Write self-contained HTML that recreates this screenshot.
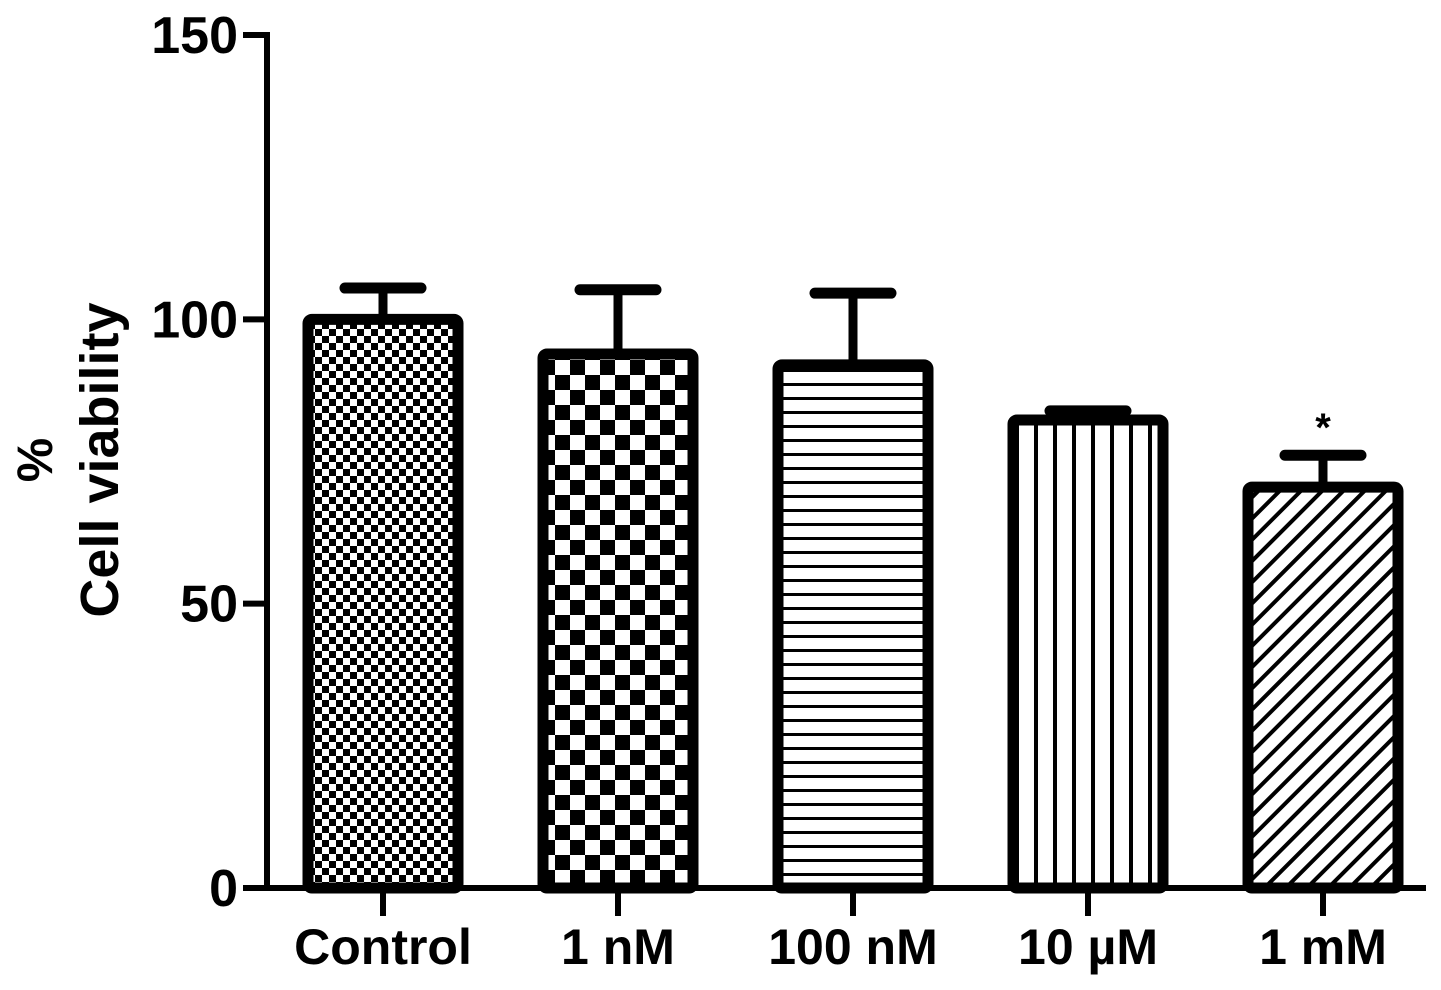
<!DOCTYPE html>
<html><head><meta charset="utf-8"><style>
html,body{margin:0;padding:0;background:#fff;}
svg{display:block;font-family:"Liberation Sans",sans-serif;font-weight:bold;}
</style></head><body>
<svg id="chart" width="1441" height="990" viewBox="0 0 1441 990">
<defs>
<pattern id="p0" width="14" height="14" patternUnits="userSpaceOnUse"><rect width="14" height="14" fill="#fff"/><rect width="7" height="7" fill="#000"/><rect x="7" y="7" width="7" height="7" fill="#000"/></pattern>
<pattern id="p1" width="30" height="30" patternUnits="userSpaceOnUse"><rect width="30" height="30" fill="#fff"/><rect width="15" height="15" fill="#000"/><rect x="15" y="15" width="15" height="15" fill="#000"/></pattern>
<pattern id="p2" width="14" height="14" patternUnits="userSpaceOnUse"><rect width="14" height="14" fill="#fff"/><rect y="5" width="14" height="3" fill="#000"/></pattern>
<pattern id="p3" width="19" height="19" patternUnits="userSpaceOnUse"><rect width="19" height="19" fill="#fff"/><rect x="8" width="4" height="19" fill="#000"/></pattern>
<pattern id="p4" width="15" height="15" patternUnits="userSpaceOnUse" patternTransform="rotate(45)"><rect width="15" height="15" fill="#fff"/><rect x="5" width="4" height="15" fill="#000"/></pattern>
</defs>
<g id="marks"></g>
<g id="axes"></g>
<text transform="translate(52,460) rotate(-90)" text-anchor="middle" font-size="50">%</text>
<text transform="translate(118,460) rotate(-90)" text-anchor="middle" font-size="54">Cell viability</text>
</svg>
<script>
const categories = ["Control","1 nM","100 nM","10 µM","1 mM"];
const values = [100, 93.9, 92, 82.3, 70.5];
const errors = [5.5, 11.3, 12.6, 1.6, 5.6];
const significance = ["", "", "", "", "*"];
const yTicks = [0, 50, 100, 150];
const NS="http://www.w3.org/2000/svg";
const y0=888, yTop=35, yMax=150;
function yScale(v){return y0-(v/yMax)*(y0-yTop);}
function xCenter(i){return 383+i*235;}
function mk(tag,attrs,parent){const e=document.createElementNS(NS,tag);for(const k in attrs)e.setAttribute(k,attrs[k]);parent.appendChild(e);return e;}
const marks=document.getElementById('marks'), axes=document.getElementById('axes');
const barW=150;
categories.forEach((c,i)=>{
  const cx=xCenter(i), top=yScale(values[i]), et=yScale(values[i]+errors[i]);
  const st=mk('line',{x1:cx,x2:cx,y1:top,y2:et,stroke:'#000','stroke-width':9},marks);
  
  
  const cap=mk('line',{x1:cx-38,x2:cx+38,y1:et,y2:et,stroke:'#000','stroke-width':11,'stroke-linecap':'round'},marks);
  
  
  const b=mk('rect',{x:cx-barW/2,y:top,width:barW,height:y0-top,fill:'url(#p'+i+')',stroke:'#000','stroke-width':11,rx:4},marks);
  
  
  if(significance[i]){const s=mk('text',{x:cx,y:et-14,'text-anchor':'middle','font-size':40},marks);s.textContent=significance[i];
    
    }
  const t=mk('line',{x1:cx,x2:cx,y1:y0,y2:916,stroke:'#000','stroke-width':6},axes);
  
  
  const l=mk('text',{x:cx,y:964,'text-anchor':'middle','font-size':50},axes);l.textContent=c;
  
  
});
const ya=mk('line',{x1:267,x2:267,y1:yTop-3,y2:y0+3,stroke:'#000','stroke-width':6},axes);


const xa=mk('line',{x1:264,x2:1426,y1:y0,y2:y0,stroke:'#000','stroke-width':6},axes);


yTicks.forEach(v=>{
  const y=yScale(v);
  const t=mk('line',{x1:243,x2:267,y1:y,y2:y,stroke:'#000','stroke-width':6},axes);
  
  
  const l=mk('text',{x:238,y:y+18,'text-anchor':'end','font-size':52},axes);l.textContent=v;
  
  
});
</script>
</body></html>
